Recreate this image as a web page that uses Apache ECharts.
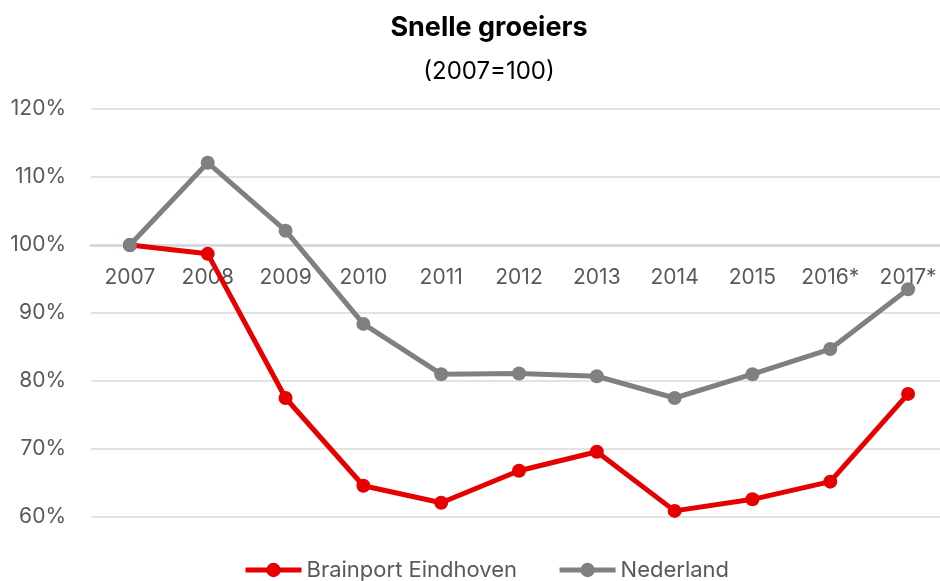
<!DOCTYPE html>
<html>
<head>
<meta charset="utf-8">
<script src="https://cdn.jsdelivr.net/npm/echarts@6/dist/echarts.min.js"></script>
<style>html,body{margin:0;padding:0;background:#fff}#c{width:940px;height:581px}</style>
</head>
<body>
<div id="c"></div>
<script>
var categories = ['2007','2008','2009','2010','2011','2012','2013','2014','2015','2016*','2017*'];
var brainport = [100, 98.7, 77.5, 64.6, 62.1, 66.8, 69.6, 60.9, 62.6, 65.2, 78.1];
var nederland = [100, 112.1, 102.1, 88.4, 81.0, 81.1, 80.7, 77.5, 81.0, 84.7, 93.5];
var yTicks = { min: 60, max: 120, interval: 10 };

var chart = echarts.init(document.getElementById('c'), null, { renderer: 'canvas' });
var font = 'Inter, "Noto Sans", sans-serif';
chart.setOption({
  animation: false,
  backgroundColor: '#fff',
  title: [
    { text: 'Snelle groeiers', left: 484, textAlign: 'center', top: 9,
      textStyle: { fontFamily: font, fontSize: 27, fontWeight: 'bold', color: '#000' } },
    { text: '(2007=100)', left: 484, textAlign: 'center', top: 55,
      textStyle: { fontFamily: font, fontSize: 24, fontWeight: 'normal', color: '#000' } }
  ],
  grid: { left: 91, top: 109, width: 856, height: 408, outerBoundsMode: 'none', containLabel: false },
  legend: {
    bottom: -5, left: 238, itemWidth: 56, itemHeight: 18, itemGap: 40,
    lineStyle: { width: 5 },
    textStyle: { fontFamily: font, fontSize: 22, color: '#595959' },
    data: ['Brainport Eindhoven', 'Nederland']
  },
  xAxis: {
    type: 'category', data: categories, boundaryGap: true,
    offset: -272,
    axisLine: { show: true, lineStyle: { color: '#d9d9d9', width: 3 } },
    axisTick: { show: false },
    axisLabel: { margin: 22, fontFamily: font, fontSize: 21, color: '#595959', interval: 0 }
  },
  yAxis: {
    type: 'value', min: yTicks.min, max: yTicks.max, interval: yTicks.interval,
    axisLine: { show: false }, axisTick: { show: false },
    axisLabel: { formatter: '{value}%', margin: 25, fontFamily: font, fontSize: 21, color: '#595959' },
    splitLine: { lineStyle: { color: '#d9d9d9', width: 1.5 } }
  },
  series: [
    { name: 'Brainport Eindhoven', type: 'line', data: brainport, z: 2,
      symbol: 'circle', symbolSize: 14,
      lineStyle: { color: '#e60000', width: 5 }, itemStyle: { color: '#e60000' } },
    { name: 'Nederland', type: 'line', data: nederland, z: 3,
      symbol: 'circle', symbolSize: 14,
      lineStyle: { color: '#808080', width: 5 }, itemStyle: { color: '#808080' } }
  ]
});
</script>
</body>
</html>
